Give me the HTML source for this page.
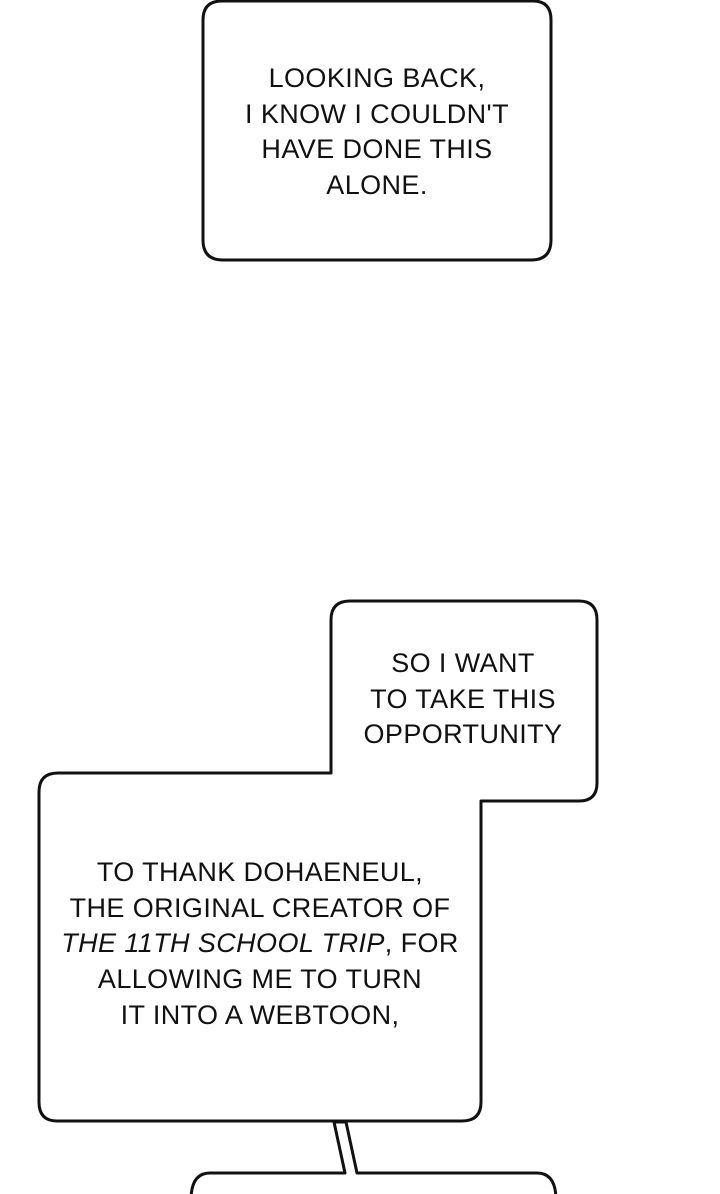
<!DOCTYPE html>
<html><head><style>
html,body{margin:0;padding:0;background:#fff;width:720px;height:1194px;overflow:hidden}
svg{position:absolute;left:0;top:0}
.t{position:absolute;font-family:"Liberation Sans",sans-serif;font-size:27px;line-height:35.7px;text-align:center;color:#111;transform:translateX(-50%);white-space:nowrap;letter-spacing:0.4px}
</style></head><body>
<svg width="720" height="1194" viewBox="0 0 720 1194">
<g fill="#fff" stroke="#111" stroke-width="3" stroke-linejoin="round">
<path d="M222,1 L533,1 Q551,1 551,20 L551,240 Q551,260 531,260 L223,260 Q203,260 203,240 L203,20 Q203,1 222,1 Z"/>
<path d="M350,601 L579,601 Q597,601 597,620 L597,783 Q597,801 579,801 L481,801 L481,1102 Q481,1121 462,1121 L57,1121 Q39,1121 39,1102 L39,792 Q39,773 58,773 L331,773 L331,620 Q331,601 350,601 Z"/>
<path d="M210,1173 L345,1173 L334,1122 L346,1122 L357,1173 L537,1173 Q556,1173 556,1200 L191,1200 Q191,1173 210,1173 Z"/>
</g>
</svg>
<div class="t" style="left:377px;top:61px">LOOKING BACK,<br>I KNOW I COULDN'T<br>HAVE DONE THIS<br>ALONE.</div>
<div class="t" style="left:463px;top:646px">SO I WANT<br>TO TAKE THIS<br>OPPORTUNITY</div>
<div class="t" style="left:260px;top:855px">TO THANK DOHAENEUL,<br>THE ORIGINAL CREATOR OF<br><i>THE 11TH SCHOOL TRIP</i>, FOR<br>ALLOWING ME TO TURN<br>IT INTO A WEBTOON,</div>
</body></html>
